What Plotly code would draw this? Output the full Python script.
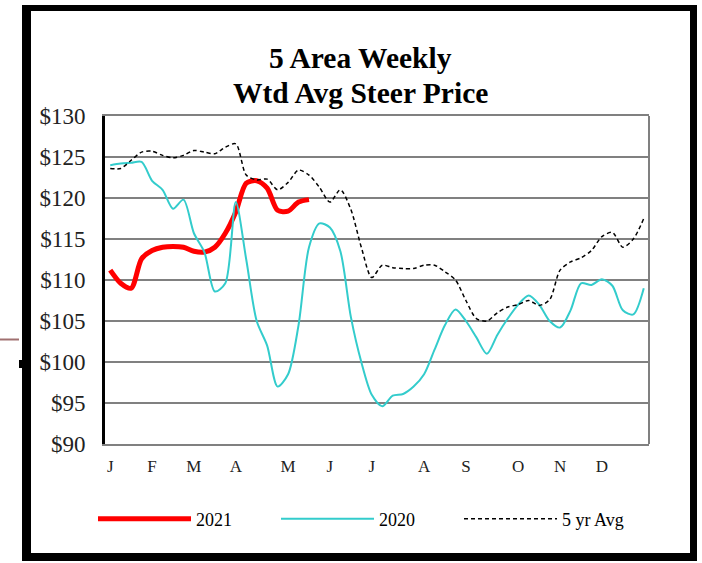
import plotly.graph_objects as go

weeks = list(range(1, 53))
month_weeks = [1, 5, 9, 13, 18, 22, 26, 31, 35, 40, 44, 48]
month_labels = ["J", "F", "M", "A", "M", "J", "J", "A", "S", "O", "N", "D"]
y_ticks = [90, 95, 100, 105, 110, 115, 120, 125, 130]
title_lines = ["5 Area Weekly", "Wtd Avg Steer Price"]

price_2021 = [111.2, 109.6, 109.0, 112.6, 113.6, 114.0, 114.1, 114.0, 113.5, 113.4,
              114.0, 115.7, 118.3, 121.8, 122.1, 121.2, 118.5, 118.4, 119.5, 119.8]

price_2020 = [124.0, 124.2, 124.3, 124.4, 122.1, 121.0, 118.7, 119.8, 115.7, 113.4,
              108.6, 109.6, 119.5, 112.5, 105.0, 102.0, 97.0, 98.5, 104.5, 114.0,
              116.9, 116.4, 113.5, 105.5, 100.0, 96.0, 94.6, 95.9, 96.1, 97.0,
              98.5, 101.5, 104.5, 106.4, 105.0, 103.0, 101.0, 103.3, 105.3, 107.0,
              108.1, 107.0, 105.0, 104.2, 106.3, 109.6, 109.4, 110.1, 109.3, 106.3,
              105.8, 109.0]

avg_5yr = [123.6, 123.6, 124.6, 125.6, 125.7, 125.2, 124.9, 125.2, 125.8, 125.6,
           125.4, 126.2, 126.6, 122.8, 122.2, 122.3, 121.0, 121.9, 123.4, 122.8,
           121.3, 119.5, 121.0, 118.6, 114.0, 110.3, 111.8, 111.5, 111.4, 111.4,
           111.8, 111.8, 111.0, 110.0, 107.5, 105.3, 105.0, 106.0, 106.7, 107.0,
           107.5, 106.9, 107.6, 111.2, 112.2, 112.7, 113.6, 115.3, 115.8, 114.0,
           115.0, 117.5]

FONT = "Liberation Serif"
W, H = 702, 563
L, R, T, B = 105, 649, 116, 444


def px(x):
    return (x - L) / (R - L)


def py(y):
    return (B - y) / (B - T)


fig = go.Figure()
fig.add_trace(go.Scatter(x=weeks[:len(price_2021)], y=price_2021, name="2021", mode="lines",
                         line=dict(color="#FF0000", width=5, shape="spline", smoothing=0.8)))
fig.add_trace(go.Scatter(x=weeks, y=price_2020, name="2020", mode="lines",
                         line=dict(color="#33CCCC", width=2, shape="spline", smoothing=0.8)))
fig.add_trace(go.Scatter(x=weeks, y=avg_5yr, name="5 yr Avg", mode="lines",
                         line=dict(color="#000000", width=1.5, dash="4px,3px",
                                   shape="spline", smoothing=0.8)))

shapes = [
    # right border of plot
    dict(type="line", xref="paper", yref="paper", x0=1, x1=1, y0=0, y1=1,
         line=dict(color="#808080", width=2)),
    # outer black frame
    dict(type="line", xref="paper", yref="paper", x0=px(26.5), x1=px(26.5), y0=py(5), y1=py(561),
         line=dict(color="black", width=9)),
    dict(type="line", xref="paper", yref="paper", x0=px(693.5), x1=px(693.5), y0=py(5), y1=py(561),
         line=dict(color="black", width=7)),
    dict(type="line", xref="paper", yref="paper", x0=px(22), x1=px(697), y0=py(8), y1=py(8),
         line=dict(color="black", width=6)),
    dict(type="line", xref="paper", yref="paper", x0=px(22), x1=px(697), y0=py(557), y1=py(557),
         line=dict(color="black", width=8)),
    # small artifacts at the left edge
    dict(type="line", xref="paper", yref="paper", x0=px(0), x1=px(19), y0=py(339.5), y1=py(339.5),
         line=dict(color="#A07070", width=2)),
    dict(type="rect", xref="paper", yref="paper", x0=px(19), x1=px(23), y0=py(360), y1=py(368),
         fillcolor="black", line=dict(width=0)),
]

annotations = [
    dict(text="<b>%s</b>" % title_lines[0], xref="paper", yref="paper", x=px(360), y=py(58),
         xanchor="center", yanchor="middle", showarrow=False,
         font=dict(family=FONT, size=29.5, color="black")),
    dict(text="<b>%s</b>" % title_lines[1], xref="paper", yref="paper", x=px(360), y=py(93),
         xanchor="center", yanchor="middle", showarrow=False,
         font=dict(family=FONT, size=29.5, color="black")),
]

fig.update_layout(
    width=W, height=H,
    margin=dict(l=L, r=W - R, t=T, b=H - B, pad=0, autoexpand=False),
    paper_bgcolor="white", plot_bgcolor="white",
    font=dict(family=FONT, color="black"),
    showlegend=True,
    legend=dict(orientation="h", x=px(93), xanchor="left", y=py(519), yanchor="middle",
                font=dict(family=FONT, size=18, color="black"),
                itemwidth=93, entrywidth=75, entrywidthmode="pixels",
                bgcolor="rgba(0,0,0,0)", traceorder="normal"),
    shapes=shapes,
    annotations=annotations,
)
fig.update_xaxes(range=[0.5, 52.5], tickmode="array", tickvals=month_weeks, ticktext=month_labels,
                 showgrid=False, zeroline=False, showline=True, linecolor="#808080", linewidth=2,
                 mirror=True, ticks="", ticklabelstandoff=6,
                 tickfont=dict(family=FONT, size=17, color="#222222"))
fig.update_yaxes(range=[90, 130], tickmode="array", tickvals=y_ticks,
                 ticktext=["$%d" % v for v in y_ticks],
                 showgrid=True, gridcolor="#808080", gridwidth=2, zeroline=False,
                 showline=True, linecolor="black", linewidth=3, ticks="",
                 ticklabelstandoff=12,
                 tickfont=dict(family=FONT, size=23, color="#222222"))

fig.write_html(
    "out.html",
    config={"displayModeBar": False},
    post_script="document.body.style.margin='0';document.body.style.padding='0';"
                "document.documentElement.style.margin='0';"
                "var gd=document.getElementById('{plot_id}');"
                "if(gd&&gd.parentElement){gd.parentElement.style.lineHeight='0';"
                "gd.parentElement.style.fontSize='0';}",
)
